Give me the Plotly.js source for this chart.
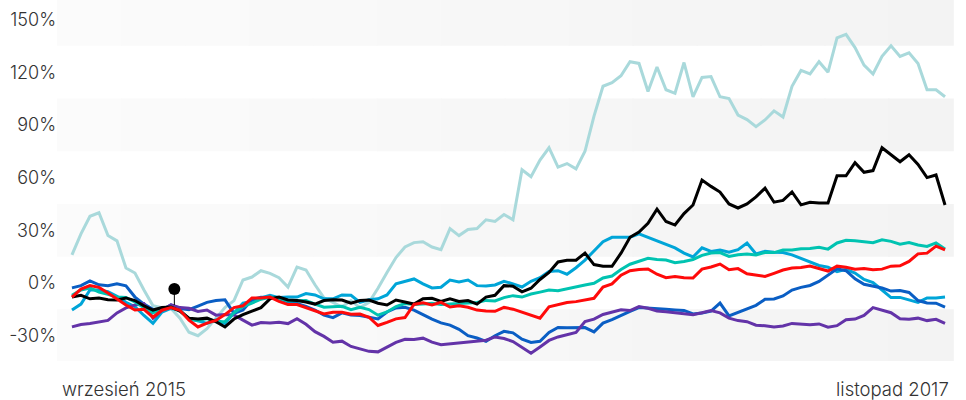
<!DOCTYPE html>
<html>
<head>
<meta charset="utf-8">
<script src="https://cdn.plot.ly/plotly-3.0.1.min.js"></script>
<style>
  html, body { margin: 0; padding: 0; background: #ffffff; }
  #chart { width: 966px; height: 400px; }
</style>
</head>
<body>
<div id="chart"></div>
<script>
// ---- data ----
const startDate = '2015-09-20';
const stepDays = 8;
const xLabels = ['wrzesień 2015', 'listopad 2017'];
const yTickValues = [-30, 0, 30, 60, 90, 120, 150];
const yTickLabels = ['-30%', '0%', '30%', '60%', '90%', '120%', '150%'];

const lightTeal = [16,28,38,40,27,24,8.5,5.7,-4,-13,-14,-14.5,-20,-28,-30,-26,-20,-14,-10,1.7,3.4,7,5.5,3,-2.3,9.1,7.4,-1,-8.5,-11,-13.7,-10,-14,-11,-3,6,14.5,20.5,23,23.5,20.5,19,31,27,30.5,31,36,35,39,36,64.5,60.5,70,77,66,68,65,75,95,112,114,118,126,125,109,123,110,108,125.5,106,117,117.5,106,105,95.6,93,89,92.8,98,94.5,112,121,119,126,120,139.5,141.5,134,124,119,129,135,129,131,125,110,110,106];
const black = [-8,-7,-9,-8.5,-9.5,-9.7,-8.5,-10,-13,-15.4,-14,-13.7,-16,-20,-20.5,-20,-22,-25,-20.5,-18,-16,-14,-9,-8,-9.7,-10,-10.8,-12,-10,-9.5,-9.7,-11.5,-10,-9.7,-11.5,-12.5,-9.7,-11,-12,-9,-8.7,-10.5,-9,-10.5,-10,-12,-8,-7,-1.5,-1.8,-5,-3,2,6,12,13,13,17,10.5,9.5,9.5,17,26,29,34,42,35,33,39.5,44.4,58.6,55,51.8,45,42.7,45,49,54,46,47,51.8,44.5,46,45.5,45.5,61,61,68.5,63,64,77,73,69,73,67.5,60,61.5,44.4];
const cyan = [-15.4,-12,-4,-4,-5,-7.5,-11,-13.5,-18.5,-23,-16.5,-14.5,-15.4,-20.5,-21.5,-23,-21,-23,-17,-11.4,-10.5,-8.5,-7,-8.3,-8,-8,-6,-6.8,-9,-9,-6.8,-7,-11,-9.5,-9,-6.8,-0.5,1,2.3,-0.5,-2.8,-2.4,1.7,0.6,1.7,-1.5,-1.7,-1.1,1,-0.5,-2.3,1,3,6.5,7,5,8.7,13,18,23.5,26,26,26,28,26,24,22,20,17,14.8,20,18,18.8,17.5,19,22.8,16.5,18,17.5,17.3,16,14,12.3,10,9,6.5,7.8,5.7,2,0.2,-4,-8.3,-8.2,-9.8,-11,-8.5,-8.5,-8];
const tealGreen = [-7,-4,-2.8,-5.2,-6.5,-8,-8.3,-10.8,-14,-17,-15,-13.7,-16,-20.3,-21.5,-20.2,-22,-22,-17,-13.4,-11.4,-9.2,-8.1,-8.7,-10.2,-9.9,-10,-12,-13.8,-13.5,-13.3,-15.2,-13.8,-15.1,-18.3,-16.5,-13.4,-11.7,-12.3,-11.9,-11.6,-12.3,-12,-11.6,-11,-11.1,-9.9,-10.2,-8.3,-7.2,-8,-6.3,-5.2,-4,-4.4,-3.2,-2.1,-1.1,-0.2,2.9,4,7.7,10.7,12.6,14.1,13.4,13.1,11.6,12.2,13.4,15.7,17.1,17.3,15.1,16.1,16.5,16,17.4,17.3,18.8,18.8,19.5,19.6,20.3,19.3,22.8,24.3,24,23.6,22.9,24.6,23.7,22.1,23,21.6,20.8,22.8,19.4];
const red = [-8,-3.5,-1.5,-2.5,-5.7,-9.3,-12.5,-15.4,-15,-19.5,-15.5,-14,-15.5,-21.2,-25,-22.8,-21.3,-18,-14,-13,-8.5,-8.5,-8,-10.5,-12.3,-12.3,-14,-16,-17.6,-16.6,-16.7,-17.8,-17.7,-19.5,-24.2,-22.4,-20.4,-19.7,-12.2,-11.2,-12.5,-11,-13.7,-13,-13.8,-15.4,-16,-16.1,-13.9,-14.9,-16.5,-18.4,-20,-13.5,-12.5,-11.1,-10.6,-9.7,-8.7,-2.3,-0.5,4.4,7,7.7,8,5,3,3.7,3,2.8,7.9,9.1,10.8,7.6,8.2,5.3,4.5,3.7,5.5,7.4,8.5,8.8,9.7,8.2,6.8,9.6,9,7.9,8.3,7.6,7.9,9.6,9.8,12.3,16.6,17,21,18.8];
const blue = [-2.8,-1.5,1.2,-1,-1.6,-0.5,-1.6,-8,-12,-15,-15.4,-12.5,-14.5,-15.2,-13.1,-11,-10,-9.6,-17.3,-15.4,-9.5,-8.1,-8.4,-9,-10.8,-11.7,-13.3,-15.4,-18.3,-19.7,-17,-18.2,-18.5,-19.7,-20.5,-16.5,-14.2,-13.8,-15.4,-18,-20.6,-22.7,-24,-26.4,-30,-31.3,-33.2,-30,-27.5,-28.4,-32,-33.8,-33.2,-28.1,-25.3,-25.5,-25.4,-25.4,-27.8,-22.8,-20.9,-18.3,-16.1,-14,-14.2,-14.7,-14.9,-15.3,-15.6,-17.6,-17.1,-16,-11.4,-18.7,-16.8,-14.6,-12.7,-9.3,-9.1,-7.4,-4,-2.5,-1.4,0.9,4.6,8.1,7,2.4,-0.7,-1.8,-2.8,-4.6,-4.3,-5.4,-10,-11.4,-11.5,-13.7];
const purple = [-25,-23.6,-23,-22,-21.3,-17,-14.2,-12.5,-11.8,-20,-15.4,-12.5,-14,-14.4,-16.2,-15.4,-18.3,-18,-18.2,-21.1,-24,-22.5,-22.7,-22.3,-23.1,-20.3,-23.5,-27.7,-30.4,-33.7,-33.1,-36.1,-37.3,-38.9,-39.2,-36.4,-33.8,-32,-32.2,-31.4,-33.7,-35.1,-34.6,-34.2,-33.4,-33,-32.6,-30.7,-31.6,-33.3,-36.9,-40,-36.4,-32.7,-30.7,-29.3,-28.1,-22,-20.6,-17.9,-16.5,-15.2,-15.7,-13.4,-14.4,-15.9,-16.3,-16.9,-17.4,-18,-16.9,-15.7,-17,-20,-21.4,-22,-24,-24.3,-25.1,-24.5,-23,-23.5,-23.7,-23.3,-25.2,-24.3,-20.9,-20.5,-18.4,-14,-15.4,-16.9,-20.3,-20.6,-20,-21.4,-20.7,-23];

const eventDate = ['2015-12-20', '2015-12-20'];
const eventValue = [-3.4, -12.5];

// ---- build ----
const N = lightTeal.length;
[black, cyan, tealGreen, red, blue, purple].forEach((s, i) => {
  if (s.length !== N) throw new Error('length mismatch in series ' + i + ': ' + s.length + ' vs ' + N);
});
const DAY = 86400000;
const t0 = new Date(startDate + 'T00:00:00Z').getTime();
const dates = [];
for (let i = 0; i < N; i++) dates.push(new Date(t0 + i * stepDays * DAY).toISOString().slice(0, 10));
const tEnd = t0 + (N - 1) * stepDays * DAY;
const xRange = [new Date(t0 - 13.3 * DAY).toISOString(), new Date(tEnd + 6.2 * DAY).toISOString()];

function line(y, color, width) {
  return { x: dates, y: y, type: 'scatter', mode: 'lines',
           line: { color: color, width: width, shape: 'linear' },
           hoverinfo: 'skip', showlegend: false };
}

const traces = [
  line(lightTeal, '#a9d9db', 3),
  line(cyan, '#00a5d8', 3),
  line(blue, '#0a5ec4', 3),
  line(purple, '#6333a8', 3),
  line(tealGreen, '#00c3b1', 3),
  line(black, '#000000', 3),
  line(red, '#ff0a0a', 3),
  { x: eventDate, y: eventValue, type: 'scatter', mode: 'lines',
    line: { color: '#000000', width: 1 }, hoverinfo: 'skip', showlegend: false },
  { x: [eventDate[0]], y: [eventValue[0]], type: 'scatter', mode: 'markers',
    marker: { color: '#000000', size: 12 }, hoverinfo: 'skip', showlegend: false }
];

// striped bands with a faint left-to-right shading
const shapes = [];
const bandCenters = [-30, 30, 90, 150];
const segs = 14;
bandCenters.forEach(c => {
  for (let k = 0; k < segs; k++) {
    const g = Math.round(251 - 8 * (k / (segs - 1)));
    shapes.push({ type: 'rect', xref: 'paper', yref: 'y', layer: 'below',
      x0: k / segs, x1: (k + 1) / segs + 0.002, y0: c - 15, y1: c + 15,
      fillcolor: 'rgb(' + g + ',' + g + ',' + g + ')', line: { width: 0 } });
  }
});

const fontFam = 'Inter, Lato, "Open Sans", sans-serif';
const layout = {
  width: 966, height: 400,
  margin: { l: 57, r: 14, t: 0, b: 39 },
  paper_bgcolor: '#ffffff', plot_bgcolor: '#ffffff',
  font: { family: fontFam, size: 18, color: '#333333', weight: 300 },
  xaxis: { type: 'date', range: xRange, showgrid: false, zeroline: false,
           showline: false, showticklabels: false, ticks: '' },
  yaxis: { range: [-44.4, 161.1], tickvals: yTickValues, ticktext: yTickLabels,
           showgrid: false, zeroline: false, showline: false, ticks: '',
           tickfont: { family: fontFam, size: 18, color: '#333333', weight: 300 },
           ticklabelstandoff: 0 },
  shapes: shapes,
  annotations: [
    { text: xLabels[0], xref: 'paper', yref: 'paper', x: 0, y: 0, xanchor: 'left',
      yanchor: 'top', xshift: 3, yshift: -15, showarrow: false,
      font: { family: fontFam, size: 18.5, color: '#333333', weight: 300 } },
    { text: xLabels[1], xref: 'paper', yref: 'paper', x: 1, y: 0, xanchor: 'right',
      yanchor: 'top', xshift: -1, yshift: -15, showarrow: false,
      font: { family: fontFam, size: 18.5, color: '#333333', weight: 300 } }
  ]
};

Plotly.newPlot('chart', traces, layout, { staticPlot: true, displayModeBar: false });
</script>
</body>
</html>
